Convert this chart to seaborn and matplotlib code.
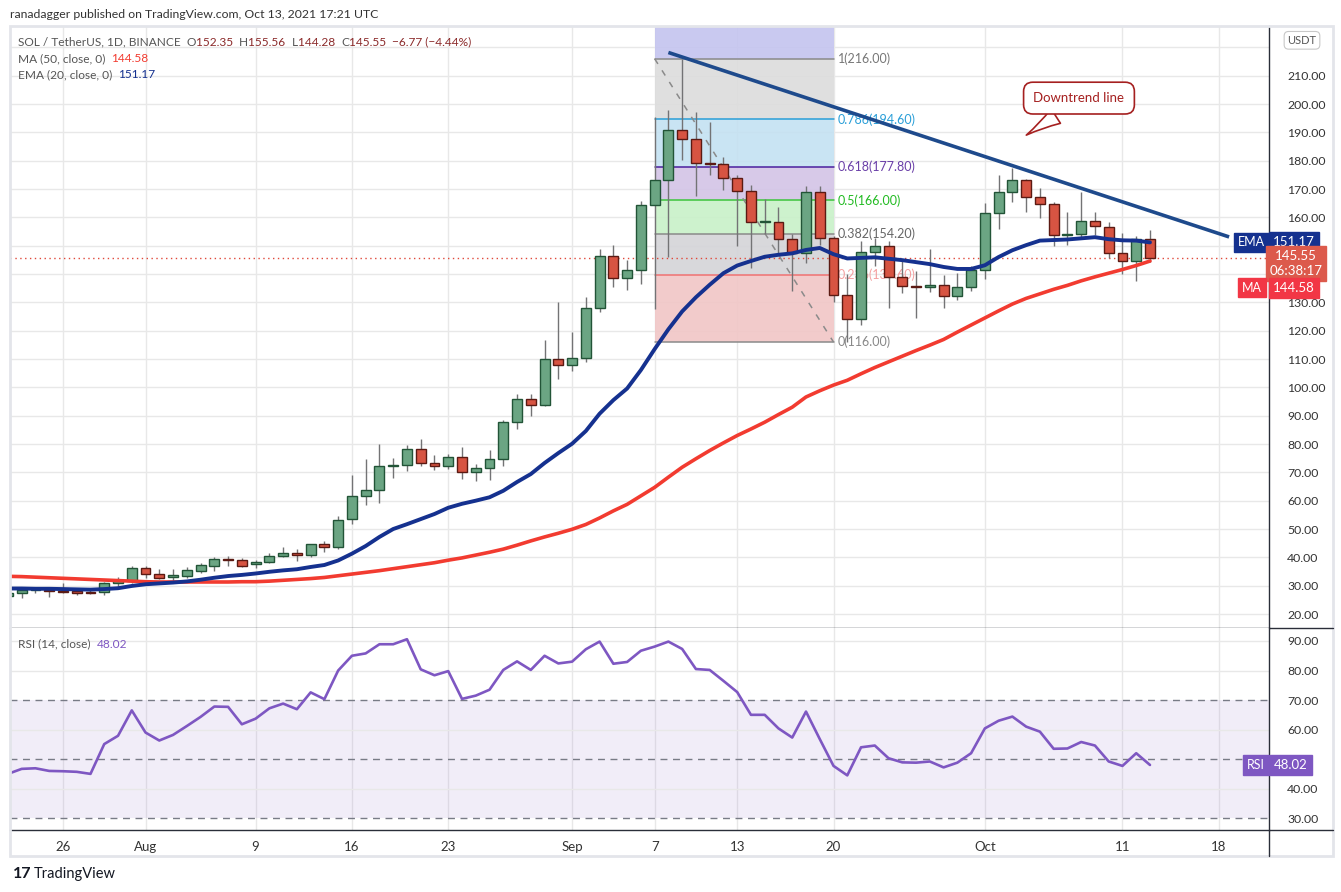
import numpy as np
import pandas as pd
import matplotlib
matplotlib.use("Agg")
import matplotlib.pyplot as plt
import matplotlib.dates as mdates
from matplotlib.patches import Rectangle
from matplotlib.lines import Line2D
import seaborn as sns

# ---- data ----
dates = pd.date_range("2021-07-22", "2021-10-13", freq="D")

opens = [26.4, 27.4, 28.4, 28.3, 28.1, 28.1, 27.8, 27.6, 30.8, 31.7,
         36.4, 34.1, 32.9, 33.5, 35.2, 37.1, 39.3, 39.2, 37.5, 38.2, 40.3, 41.4, 40.7, 44.6, 43.8,
         53.4, 61.7, 63.9, 72.2, 72.7, 78.3, 73.4, 72.3, 75.5, 70.2, 71.6, 74.7, 87.7, 95.9, 93.8, 110.0,
         107.9, 110.3, 127.9, 146.2, 138.5, 141.6, 164.2, 173.3, 190.9, 187.7, 179.3, 178.9, 174.0, 169.4,
         158.3, 158.5, 152.2, 147.3, 169.1, 152.8, 132.6, 124.2, 147.9, 149.9, 139.1, 135.8, 135.5, 136.2,
         132.3, 135.3,
         141.6, 161.5, 168.9, 173.2, 167.2, 164.7, 153.7, 154.2, 158.7, 156.6, 147.5, 144.6, 152.35]
highs = [27.9, 29.0, 29.4, 29.0, 31.0, 28.9, 28.6, 31.4, 32.9, 37.0,
         37.0, 35.8, 35.8, 36.7, 37.9, 40.1, 40.5, 39.6, 39.2, 41.5, 43.6, 43.1, 44.8, 45.7, 54.5,
         68.9, 74.8, 80.0, 75.1, 79.8, 81.8, 76.0, 76.5, 79.1, 72.8, 78.0, 88.6, 97.8, 97.8, 116.8, 130.1,
         119.6, 131.9, 148.7, 150.4, 144.8, 165.9, 195.6, 197.9, 216.0, 197.3, 193.5, 181.4, 174.8, 171.5,
         166.5, 163.7, 154.0, 171.2, 170.9, 153.6, 140.1, 151.6, 152.6, 151.6, 144.8, 140.9, 149.0, 139.5,
         140.3, 143.0,
         165.2, 175.0, 177.6, 173.5, 170.5, 165.5, 161.8, 169.1, 161.8, 158.5, 154.4, 153.6, 155.56]
lows = [26.0, 25.8, 27.5, 26.1, 27.3, 26.6, 27.0, 26.7, 29.0, 31.0,
        32.8, 32.3, 31.7, 32.8, 34.6, 35.2, 37.0, 36.5, 36.2, 37.9, 40.1, 38.8, 40.1, 42.0, 43.0,
        51.7, 58.3, 59.2, 68.0, 70.4, 72.2, 70.7, 71.3, 67.7, 67.1, 67.3, 72.3, 85.2, 89.8, 93.3, 102.8,
        105.7, 108.8, 126.5, 135.5, 134.5, 136.6, 127.6, 146.1, 180.1, 167.4, 174.9, 169.8, 149.8, 142.2,
        154.2, 146.9, 134.0, 143.8, 150.4, 130.2, 116.0, 122.1, 142.7, 128.0, 133.3, 124.5, 133.8, 128.0,
        130.9, 134.0,
        138.3, 155.9, 165.3, 161.8, 159.8, 149.8, 150.3, 152.3, 153.8, 145.5, 140.1, 137.7, 144.28]
closes = [27.4, 28.4, 28.7, 28.0, 27.8, 27.5, 27.5, 30.8, 31.8, 36.4,
          34.0, 32.8, 33.7, 35.5, 37.2, 39.3, 39.0, 37.1, 38.3, 40.3, 41.4, 40.7, 44.6, 43.8, 53.3,
          61.7, 63.9, 72.3, 72.4, 78.3, 73.4, 72.3, 75.5, 70.2, 71.6, 74.8, 87.8, 95.9, 93.8, 110.0, 107.9,
          110.3, 127.9, 146.2, 138.5, 141.6, 164.2, 173.3, 190.9, 187.7, 179.3, 178.9, 174.0, 169.4, 158.5,
          158.6, 152.2, 147.3, 169.1, 152.6, 132.6, 124.2, 147.9, 149.9, 139.1, 135.8, 135.5, 136.3, 132.1,
          135.3, 141.6,
          161.5, 168.9, 173.2, 167.2, 164.7, 153.8, 154.0, 158.7, 157.1, 147.5, 144.6, 152.4, 145.55]

ema20 = [29.0, 29.0, 28.9, 28.9, 28.8, 28.7, 28.6, 28.8, 29.1, 29.9,
         30.5, 30.8, 31.1, 31.5, 32.1, 32.8, 33.4, 33.8, 34.3, 34.9, 35.4, 35.8, 36.6, 37.3, 38.9,
         41.3, 44.0, 47.2, 50.0, 51.7, 53.5, 55.3, 57.5, 58.9, 60.0, 61.2, 63.5, 66.6, 69.4, 73.3, 76.8,
         80.1, 84.6, 90.7, 95.5, 99.6, 106.1, 113.5, 120.5, 126.8, 131.8, 136.2, 140.3, 143.0, 144.6,
         146.1, 146.8, 147.3, 148.5, 149.2, 147.0, 145.5, 145.7, 145.9, 145.4, 144.9, 144.2, 143.5, 142.5,
         141.8, 141.8,
         143.1, 146.0, 148.4, 150.2, 151.8, 152.0, 152.2, 152.6, 153.0, 152.3, 151.9, 151.8, 151.17]
ma50 = [33.3, 33.2, 33.0, 32.8, 32.6, 32.4, 32.2, 32.0, 31.8, 31.6,
        31.4, 31.3, 31.3, 31.3, 31.3, 31.3, 31.3, 31.4, 31.4, 31.6, 31.9, 32.2, 32.5, 32.9, 33.5,
        34.1, 34.7, 35.3, 36.0, 36.7, 37.4, 38.1, 39.0, 39.8, 40.8, 41.8, 42.9, 44.3, 45.8, 47.2, 48.5,
        49.9, 51.6, 53.9, 56.4, 58.7, 61.7, 64.7, 68.3, 71.8, 74.8, 77.7, 80.4, 83.0, 85.3,
        87.7, 90.4, 93.0, 96.6, 98.8, 100.8, 102.5, 104.8, 107.0, 109.0, 111.0, 113.0, 114.9, 116.9,
        119.5, 122.0,
        124.5, 127.0, 129.4, 131.4, 133.0, 134.6, 136.0, 137.6, 139.0, 140.3, 141.6, 143.0, 144.58]
rsi14 = [45.0, 46.7, 46.9, 46.0, 45.9, 45.7, 45.0, 55.1, 57.9, 66.5,
         59.0, 56.3, 58.2, 61.2, 64.3, 67.8, 67.7, 61.8, 63.7, 67.2, 68.8, 66.9, 72.6, 70.3, 80.0,
         85.0, 85.8, 88.9, 88.9, 90.6, 80.4, 78.4, 79.8, 70.4, 71.5, 73.5, 80.2, 83.1, 80.2, 85.0, 82.4,
         83.0, 87.2, 89.8, 82.3, 82.9, 86.7, 88.1, 89.8, 87.3, 80.5, 80.2, 76.5, 72.7, 65.0,
         65.0, 60.4, 57.3, 66.1, 56.8, 47.7, 44.5, 54.0, 54.6, 50.3, 48.9, 48.8, 49.2, 47.2,
         48.8, 52.0,
         60.4, 63.0, 64.4, 61.0, 59.3, 53.5, 53.6, 55.8, 54.6, 49.2, 47.7, 52.0, 48.02]

fib_ratios = ["1", "0.786", "0.618", "0.5", "0.382", "0.236", "0"]
fib_prices = [216.00, 194.60, 177.80, 166.00, 154.20, 139.60, 116.00]
fib_span = ["2021-09-07", "2021-09-20"]

trend_dates = ["2021-09-08 00:00", "2021-10-18 18:00"]
trend_prices = [218.2, 153.1]

price_ticks = list(range(20, 230, 10))
rsi_ticks = [30, 40, 50, 60, 70, 80, 90]
tick_dates = ["2021-07-26", "2021-08-01", "2021-08-09", "2021-08-16", "2021-08-23", "2021-09-01",
              "2021-09-07", "2021-09-13", "2021-09-20", "2021-10-01", "2021-10-11", "2021-10-18"]
tick_labels = ["26", "Aug", "9", "16", "23", "Sep", "7", "13", "20", "Oct", "11", "18"]

df = pd.DataFrame({"date": dates, "open": opens, "high": highs, "low": lows, "close": closes,
                   "ema": ema20, "ma": ma50, "rsi": rsi14})

# ---- styling ----
sns.set_theme(style="white")
plt.rcParams['font.family'] = ['Lato', 'DejaVu Sans']

TXT = '#333333'
GRID = '#e8e8e8'
GREEN, GREEN_EDGE = '#6ba583', '#225437'
RED, RED_EDGE = '#d75442', '#5b1a13'
EMA_C = '#15318f'
MA_C = '#f23b30'
RSI_C = '#7e57c2'

W, H = 1341, 892
fig = plt.figure(figsize=(W / 100, H / 100), dpi=100)
fig.patch.set_facecolor('white')


def px_rect(x0, y0, x1, y1):
    return [x0 / W, 1 - y1 / H, (x1 - x0) / W, (y1 - y0) / H]


ax = fig.add_axes(px_rect(10, 26, 1269, 628))
ax_r = fig.add_axes(px_rect(10, 628, 1269, 830), sharex=ax)

base = mdates.date2num(pd.Timestamp("2021-07-26"))
ax.set_xlim(base - 3.85, base + 87.65)
ax.set_ylim(15.06, 227.55)
ax_r.set_ylim(26.0, 94.4)

tick_x = mdates.date2num(pd.to_datetime(tick_dates))
for a in (ax, ax_r):
    a.set_facecolor('white')
    for v in tick_x:
        a.axvline(v, color=GRID, lw=1.0, zorder=0)
    for s in ('top', 'left'):
        a.spines[s].set_visible(False)
    a.spines['right'].set_color('#2a2e39')
    a.spines['bottom'].set_color('#2a2e39')
    a.spines['right'].set_linewidth(1.0)
    a.spines['bottom'].set_linewidth(1.0)

for p in price_ticks:
    ax.axhline(p, color=GRID, lw=1.0, zorder=0)

# ---- fib retracement ----
fx0, fx1 = mdates.date2num(pd.to_datetime(fib_span))
band_cols = ['#c4c4ef', '#dcdcdc', '#c4e1f2', '#d3c4e6', '#c8f1c8', '#d4d4d8', '#f1c6c6']
band_edges = [ax.get_ylim()[1]] + fib_prices
for i, col in enumerate(band_cols):
    ax.fill_between([fx0, fx1], band_edges[i + 1], band_edges[i], color=col, alpha=0.9,
                    lw=0, zorder=1)
line_cols = ['#8a8a8a', '#2a9fd8', '#4b1f9e', '#3cc43c', '#8a8a8a', '#f07272', '#8a8a8a']
lab_cols = ['#777777', '#2a9fd8', '#6a3fa8', '#22bb22', '#666666', '#f4a0a0', '#888888']
for r, p, lc, tc in zip(fib_ratios, fib_prices, line_cols, lab_cols):
    ax.plot([fx0, fx1], [p, p], color=lc, lw=1.1, zorder=1.5)
    ax.text(fx1 + 0.3, p, f"{r}({p:.2f})", color=tc, fontsize=9, va='center', ha='left', zorder=1.5)
ax.plot([fx0, fx1], [fib_prices[0], fib_prices[-1]], color='#8a8a8a', lw=1.1,
        ls=(0, (4, 5)), zorder=1.6)

# ---- price line ----
last_close = closes[-1]
ax.axhline(last_close, color='#e0483a', lw=1.0, ls=(0, (1, 2.5)), zorder=2)

# ---- candles ----
x = mdates.date2num(df['date'])
o = df['open'].values
c = df['close'].values
up = c >= o
lo = np.minimum(o, c)
hgt = np.maximum(np.abs(c - o), 0.35)
ax.vlines(x, df['low'], df['high'], color='#737375', lw=1.0, zorder=3)
ax.bar(x[up], hgt[up], bottom=lo[up], width=0.72, color=GREEN, edgecolor=GREEN_EDGE, lw=1.0, zorder=4)
ax.bar(x[~up], hgt[~up], bottom=lo[~up], width=0.72, color=RED, edgecolor=RED_EDGE, lw=1.0, zorder=4)

# ---- moving averages ----
sns.lineplot(data=df, x='date', y='ma', ax=ax, color=MA_C, lw=2.6, zorder=5)
sns.lineplot(data=df, x='date', y='ema', ax=ax, color=EMA_C, lw=2.8, zorder=5)

# ---- trend line + callout ----
tx = mdates.date2num(pd.to_datetime(trend_dates))
ax.plot(tx, trend_prices, color='#1e4a8c', lw=2.6, solid_capstyle='butt', zorder=6)
ax.annotate("Downtrend line", xy=(base + 69.84, 188.5), xytext=(base + 73.84, 202.1),
            ha='center', va='center', fontsize=9.5, color='#a52020', zorder=7,
            bbox=dict(boxstyle='round,pad=0.75,rounding_size=0.7', fc='white', ec='#a52020', lw=1.2),
            arrowprops=dict(arrowstyle='wedge,tail_width=1.3,shrink_factor=0.4', fc='white',
                            ec='#a52020', lw=1.2, relpos=(0.45, 0.0)))

# ---- price axis (labels under the value tags are hidden, as in the original) ----
hidden_price = {140, 150, 220}
ax.yaxis.tick_right()
ax.set_yticks(price_ticks)
ax.set_yticklabels(["" if v in hidden_price else f"{v:.2f}" for v in price_ticks])
ax.tick_params(axis='y', length=0, pad=13, labelsize=8.8, labelcolor=TXT)
ax.tick_params(axis='x', length=0, labelbottom=False)
ax.set_xlabel('')
ax.set_ylabel('')

ytr = ax.get_yaxis_transform()


def tag(a, xa, y, s, fc, fs=9, tc='white'):
    a.text(xa, y, s, transform=a.get_yaxis_transform(), ha='center', va='center', fontsize=fs,
           color=tc, clip_on=False, zorder=10,
           bbox=dict(boxstyle='square,pad=0.3', fc=fc, ec=fc), linespacing=1.3)


tag(ax, (1251 - 10) / 1259, ema20[-1], "EMA", EMA_C)
tag(ax, (1294 - 10) / 1259, ema20[-1], f"{ema20[-1]:.2f}", EMA_C, fs=9.5)
tag(ax, (1296 - 10) / 1259, 143.7, f"{last_close:.2f}\n06:38:17", '#dc5a4c', fs=9.5)
tag(ax, (1252 - 10) / 1259, 135.2, "MA", '#f23645')
tag(ax, (1294 - 10) / 1259, 135.2, f"{ma50[-1]:.2f}", '#f23645', fs=9.5)
ax.text((1302 - 10) / 1259, 222.5, "USDT", transform=ytr, ha='center', va='center', fontsize=8,
        color='#555555', clip_on=False, zorder=10,
        bbox=dict(boxstyle='round,pad=0.3,rounding_size=0.4', fc='white', ec='#c8c8c8', lw=0.8))

# ---- RSI pane ----
ax_r.axhspan(30, 70, color=RSI_C, alpha=0.1, lw=0, zorder=0.5)
for lv in (40, 60, 80, 90):
    ax_r.axhline(lv, color=GRID, lw=1.0, zorder=0.6)
for lv in (30, 50, 70):
    ax_r.axhline(lv, color='#787b86', lw=1.0, ls=(0, (5, 4)), zorder=0.7)
sns.lineplot(data=df, x='date', y='rsi', ax=ax_r, color=RSI_C, lw=1.9, zorder=3)
ax_r.yaxis.tick_right()
ax_r.set_yticks(rsi_ticks)
ax_r.set_yticklabels(["" if v == 50 else f"{v:.2f}" for v in rsi_ticks])
ax_r.tick_params(axis='y', length=0, pad=13, labelsize=8.8, labelcolor=TXT)
ax_r.set_xticks(tick_x)
ax_r.set_xticklabels(tick_labels)
ax_r.tick_params(axis='x', length=0, pad=8, labelsize=9.5, labelcolor=TXT)
ax_r.set_xlabel('')
ax_r.set_ylabel('')
tag(ax_r, (1256 - 10) / 1259, rsi14[-1], "RSI", RSI_C)
tag(ax_r, (1291 - 10) / 1259, rsi14[-1], f"{rsi14[-1]:.2f}", RSI_C, fs=9.5)


# ---- legends inside panes ----
def chain(a, x0, y0, parts, fs=8.6):
    t = a.text(x0, y0, parts[0][0], transform=a.transAxes, color=parts[0][1], fontsize=fs,
               va='center', ha='left', zorder=9)
    for s, col in parts[1:]:
        t = a.annotate(s, xy=(1, 0), xycoords=t, xytext=(0, 0), textcoords='offset points',
                       color=col, fontsize=fs, va='bottom', ha='left', zorder=9)


VAL = '#8b2a2a'
chain(ax, 8 / 1259, 1 - 16 / 602, [("SOL / TetherUS, 1D, BINANCE  ", '#555555'),
                                   ("O", '#555555'), ("152.35  ", VAL), ("H", '#555555'),
                                   ("155.56  ", VAL), ("L", '#555555'), ("144.28  ", VAL),
                                   ("C", '#555555'), ("145.55  ", VAL), ("\u22126.77 (\u22124.44%)", VAL)])
chain(ax, 8 / 1259, 1 - 33 / 602, [("MA (50, close, 0)  ", '#555555'), (f"{ma50[-1]:.2f}", MA_C)])
chain(ax, 8 / 1259, 1 - 49 / 602, [("EMA (20, close, 0)  ", '#555555'), (f"{ema20[-1]:.2f}", EMA_C)])
chain(ax_r, 8 / 1259, 1 - 16 / 202, [("RSI (14, close)  ", '#555555'), (f"{rsi14[-1]:.2f}", RSI_C)])

# ---- frame and separators ----
fig.add_artist(Rectangle((10 / W, 1 - 856 / H), 1323 / W, 830 / H, transform=fig.transFigure,
                         fill=False, ec='#e3e5ea', lw=2))
fig.add_artist(Line2D([1269 / W, 1333 / W], [1 - 628 / H] * 2, color='#2a2e39', lw=1.0))
fig.add_artist(Line2D([1269 / W, 1333 / W], [1 - 830 / H] * 2, color='#2a2e39', lw=1.0))
fig.add_artist(Line2D([1269 / W] * 2, [1 - 856 / H, 1 - 830 / H], color='#2a2e39', lw=1.0))

fig.text(10 / W, 1 - 14 / H, "ranadagger published on TradingView.com, Oct 13, 2021 17:21 UTC",
         fontsize=8.8, color=TXT, va='center', ha='left')
fig.text(13 / W, 1 - 874 / H, "17", fontsize=11.5, fontweight='bold', color='#131722', va='center')
fig.text(34 / W, 1 - 874 / H, "TradingView", fontsize=10.5, color='#131722', va='center')

fig.savefig("out.png", dpi=100, facecolor='white')
